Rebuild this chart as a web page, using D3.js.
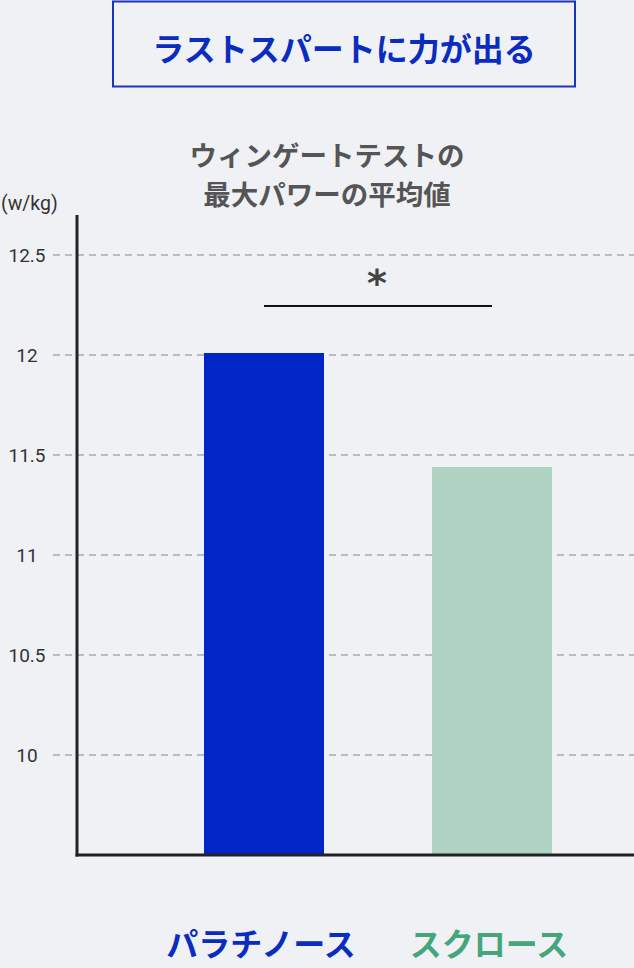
<!DOCTYPE html>
<html><head><meta charset="utf-8">
<script src="https://cdn.jsdelivr.net/npm/d3@7"></script>
<style>
html,body{margin:0;padding:0;background:#eff1f5;}
svg{display:block;}
text{font-family:"Noto Sans CJK JP","Noto Sans",sans-serif;}
</style></head>
<body>
<script>
const categories = ["パラチノース", "スクロース"];
const values = [12.01, 11.44];
const barColors = ["#0026c8", "#aed3c2"];
const labelColors = ["#0a2cc0", "#45a57c"];
const tickValues = [10, 10.5, 11, 11.5, 12, 12.5];
const tickLabels = ["10", "10.5", "11", "11.5", "12", "12.5"];
const title = "ラストスパートに力が出る";
const subtitle = ["ウィンゲートテストの", "最大パワーの平均値"];
const unit = "(w/kg)";
const sigMark = "*";

const W = 634, H = 968;
const svg = d3.select("body").append("svg").attr("width", W).attr("height", H);
svg.append("rect").attr("width", W).attr("height", H).attr("fill", "#eff1f5");

// title box
svg.append("rect").attr("x", 113).attr("y", 1.5).attr("width", 462).attr("height", 85)
  .attr("fill", "none").attr("stroke", "#1a36c0").attr("stroke-width", 2);
svg.append("text").attr("x", 344).attr("y", 47).attr("text-anchor", "middle")
  .attr("dominant-baseline", "central").attr("font-size", 32).attr("font-weight", 700)
  .attr("fill", "#0a2cc0").text(title);

// subtitle
svg.selectAll("text.sub").data(subtitle).enter().append("text").attr("class", "sub")
  .attr("x", 327).attr("y", (d, i) => 154 + i * 39).attr("text-anchor", "middle")
  .attr("dominant-baseline", "central").attr("font-size", 27.5).attr("font-weight", 700)
  .attr("fill", "#555").text(d => d);

const y = d3.scaleLinear().domain([9.5, 12.7]).range([855, 215]);
const x = d3.scaleBand().domain(categories).range([150, 606])
  .paddingInner(0.4737).paddingOuter(0.2368);

// unit
svg.append("text").attr("x", 1).attr("y", 203).attr("dominant-baseline", "central")
  .attr("font-size", 19.5).attr("fill", "#333")
  .style("font-family", "Roboto, 'Noto Sans', sans-serif").text(unit);

// gridlines
svg.append("g").selectAll("line").data(tickValues).enter().append("line")
  .attr("x1", 53).attr("x2", W).attr("y1", d => y(d)).attr("y2", d => y(d))
  .attr("stroke", "#bcbcbc").attr("stroke-width", 2).attr("stroke-dasharray", "7,5");

// y axis with d3 axis
const yAxis = d3.axisLeft(y).tickValues(tickValues)
  .tickFormat((d, i) => tickLabels[i]).tickSize(0).tickPadding(0);
const gy = svg.append("g").attr("transform", "translate(27,0)").call(yAxis);
gy.select(".domain").remove();
gy.selectAll("text").attr("font-size", 19).attr("fill", "#333").attr("text-anchor", "middle")
  .style("font-family", "Roboto, 'Noto Sans', sans-serif");

// bars
svg.append("g").selectAll("rect").data(values).enter().append("rect")
  .attr("x", (d, i) => x(categories[i])).attr("width", x.bandwidth())
  .attr("y", d => y(d)).attr("height", d => y(9.5) - y(d))
  .attr("fill", (d, i) => barColors[i]);

// axis lines
svg.append("line").attr("x1", 77).attr("x2", 77).attr("y1", y(12.7)).attr("y2", y(9.5) + 1.5)
  .attr("stroke", "#222").attr("stroke-width", 3);
svg.append("line").attr("x1", 75.5).attr("x2", W).attr("y1", y(9.5)).attr("y2", y(9.5))
  .attr("stroke", "#222").attr("stroke-width", 3);

// significance
const c0 = x(categories[0]) + x.bandwidth() / 2, c1 = x(categories[1]) + x.bandwidth() / 2;
svg.append("line").attr("x1", c0).attr("x2", c1).attr("y1", y(12.245)).attr("y2", y(12.245))
  .attr("stroke", "#111").attr("stroke-width", 2);
svg.append("text").attr("x", (c0 + c1) / 2 - 1).attr("y", 296).attr("text-anchor", "middle")
  .attr("font-size", 38).attr("font-weight", 700)
  .style("font-family", "'DejaVu Sans', sans-serif")
  .attr("fill", "#444").text(sigMark);

// category labels
svg.append("g").selectAll("text").data(categories).enter().append("text")
  .attr("x", d => x(d) + x.bandwidth() / 2 - 3).attr("y", 942).attr("text-anchor", "middle")
  .attr("dominant-baseline", "central").attr("font-size", 32).attr("font-weight", 700)
  .attr("fill", (d, i) => labelColors[i]).text(d => d);
</script>
</body></html>
